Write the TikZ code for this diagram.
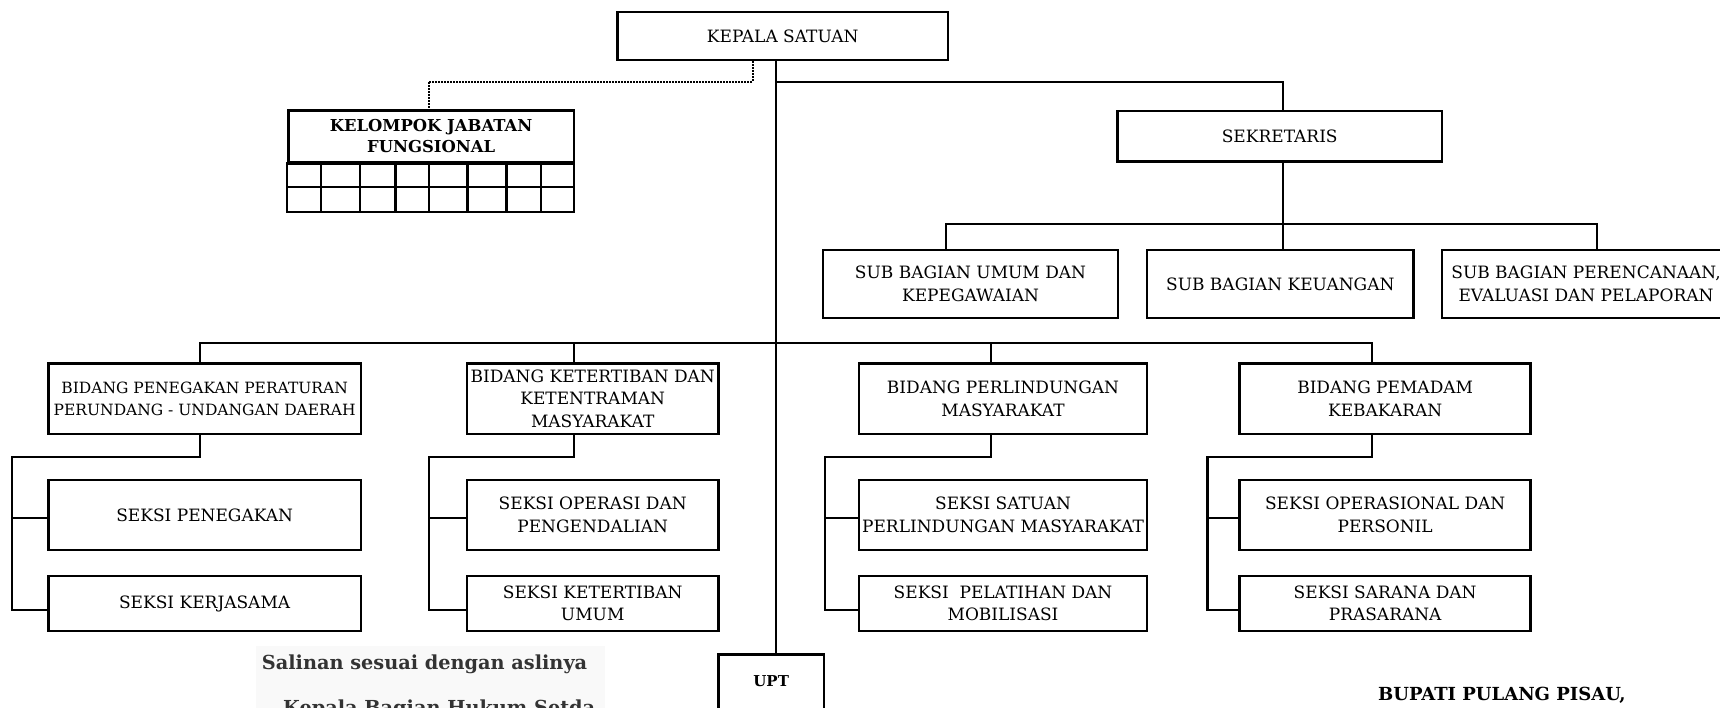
\documentclass[tikz,border=0pt]{standalone}
\usepackage{fontspec}
\setmainfont{DejaVu Serif}
\definecolor{salinbg}{HTML}{F9F9F9}
\definecolor{salintx}{HTML}{333333}
\begin{document}
\begin{tikzpicture}[x=1pt,y=-1pt,
  box/.style={draw,line width=2.6pt,inner sep=0pt,align=center,font=\fontsize{17}{22.5}\selectfont},
  smallbox/.style={box,font=\fontsize{15.5}{21.5}\selectfont},
  conn/.style={line width=2.2pt},
  dotconn/.style={line width=2pt,densely dotted},
  boldtxt/.style={inner sep=0pt,font=\bfseries\fontsize{19.3}{23}\selectfont}]
\useasboundingbox (0,0) rectangle (1720,708);
\clip (0,0) rectangle (1720,708);
% top level
\node[box,minimum width=330.5pt,minimum height=48pt] (kepala) at (782.7,36) {KEPALA SATUAN};
\node[box,minimum width=324.5pt,minimum height=50.5pt] (sek) at (1279.7,136.2) {SEKRETARIS};
% kelompok jabatan fungsional
\node[box,minimum width=285.7pt,minimum height=51.3pt,font=\bfseries\fontsize{16.4}{21}\selectfont] (kjf) at (431.15,136.35) {KELOMPOK JABATAN\\FUNGSIONAL};
\draw[line width=2.6pt] (kjf.south west) rectangle (574,212);
\draw[line width=2.2pt] (288.3,186.7) -- (574,186.7);
\foreach \cx in {320.8,360.3,395.4,428.6,467.5,506.4,540.8}
  \draw[line width=2.2pt] (\cx,162) -- (\cx,212);
% sub bagian
\node[box,minimum width=295pt,minimum height=68pt] (umum) at (970.5,284) {SUB BAGIAN UMUM DAN\\KEPEGAWAIAN};
\node[box,minimum width=266.5pt,minimum height=68pt] (keu) at (1280.25,284) {SUB BAGIAN KEUANGAN};
\node[box,minimum width=288pt,minimum height=68pt] (peren) at (1586,284) {SUB BAGIAN PERENCANAAN,\\EVALUASI DAN PELAPORAN};
% bidang
\node[smallbox,minimum width=312.7pt,minimum height=70.7pt] (b1) at (204.65,398.65) {BIDANG PENEGAKAN PERATURAN\\PERUNDANG - UNDANGAN DAERAH};
\node[box,minimum width=251.8pt,minimum height=70.7pt] (b2) at (592.7,398.65) {BIDANG KETERTIBAN DAN\\KETENTRAMAN\\MASYARAKAT};
\node[box,minimum width=288pt,minimum height=70.7pt] (b3) at (1003,398.65) {BIDANG PERLINDUNGAN\\MASYARAKAT};
\node[box,minimum width=291.1pt,minimum height=70.7pt] (b4) at (1385.15,398.65) {BIDANG PEMADAM\\KEBAKARAN};
% seksi
\node[box,minimum width=312.7pt,minimum height=70pt] (s1a) at (204.65,515) {SEKSI PENEGAKAN};
\node[box,minimum width=312.7pt,minimum height=55pt] (s1b) at (204.65,603.5) {SEKSI KERJASAMA};
\node[box,minimum width=251.8pt,minimum height=70pt] (s2a) at (592.7,515) {SEKSI OPERASI DAN\\PENGENDALIAN};
\node[box,minimum width=251.8pt,minimum height=55pt] (s2b) at (592.7,603.5) {SEKSI KETERTIBAN\\UMUM};
\node[box,minimum width=288pt,minimum height=70pt] (s3a) at (1003,515) {SEKSI SATUAN\\PERLINDUNGAN MASYARAKAT};
\node[box,minimum width=288pt,minimum height=55pt] (s3b) at (1003,603.5) {SEKSI~ PELATIHAN DAN\\MOBILISASI};
\node[box,minimum width=291.1pt,minimum height=70pt] (s4a) at (1385.15,515) {SEKSI OPERASIONAL DAN\\PERSONIL};
\node[box,minimum width=291.1pt,minimum height=55pt] (s4b) at (1385.15,603.5) {SEKSI SARANA DAN\\PRASARANA};
% UPT
\node[box,anchor=north,minimum width=105.7pt,text height=11pt,text depth=50pt,inner ysep=21pt,font=\bfseries\fontsize{15}{18}\selectfont] (upt) at (771.15,653.3) {UPT};
% footer texts
\fill[salinbg] (256,646) rectangle (605,708);
\node[boldtxt,anchor=base west,text=salintx] (salinan) at (261.7,669) {Salinan sesuai dengan aslinya};
\node[boldtxt,anchor=base west,text=salintx] (kabag) at (283,714) {Kepala Bagian Hukum Setda};
\node[boldtxt,anchor=base west,font=\bfseries\fontsize{18}{22}\selectfont] (bupati) at (1378,700.7) {BUPATI PULANG PISAU,};
% connector coordinates
\coordinate (mv) at (776,82);
\coordinate (sx) at (1283,82);
\coordinate (dk) at (752.7,81.7);
\coordinate (dj) at (428.6,81.7);
\coordinate (umd) at (946,224);
\coordinate (ped) at (1597,224);
\coordinate (bd1) at (200,342.7);
\coordinate (bd2) at (573.8,342.7);
\coordinate (bd3) at (991,342.7);
\coordinate (bd4) at (1372,342.7);
% main connectors
\draw[conn] (kepala.south -| mv) -- (upt.north -| mv);
\draw[conn] (mv) -- (sx) -- (sek.north -| sx);
\draw[conn] (sek.south -| sx) -- (keu.north -| sx);
\draw[conn] (umum.north -| umd) -- (umd) -- (ped) -- (peren.north -| ped);
\draw[dotconn] (kepala.south -| dk) -- (dk) -- (dj) -- (kjf.north -| dj);
\draw[conn] (b1.north -| bd1) -- (bd1) -- (bd4) -- (b4.north -| bd4);
\draw[conn] (bd2) -- (b2.north -| bd2);
\draw[conn] (bd3) -- (b3.north -| bd3);
% brackets
\foreach \g/\dx/\lx in {1/200/12,2/573.8/429,3/991/824.6,4/1372/1207.5}{
  \coordinate (t\g) at (\dx,456.7);
  \coordinate (l\g) at (\lx,456.7);
  \coordinate (m\g) at (\lx,518.3);
  \coordinate (e\g) at (\lx,610);
  \draw[conn] (b\g.south -| t\g) -- (t\g) -- (l\g) -- (e\g) -- (s\g b.west |- e\g);
  \draw[conn] (m\g) -- (s\g a.west |- m\g);
}
\end{tikzpicture}
\end{document}
